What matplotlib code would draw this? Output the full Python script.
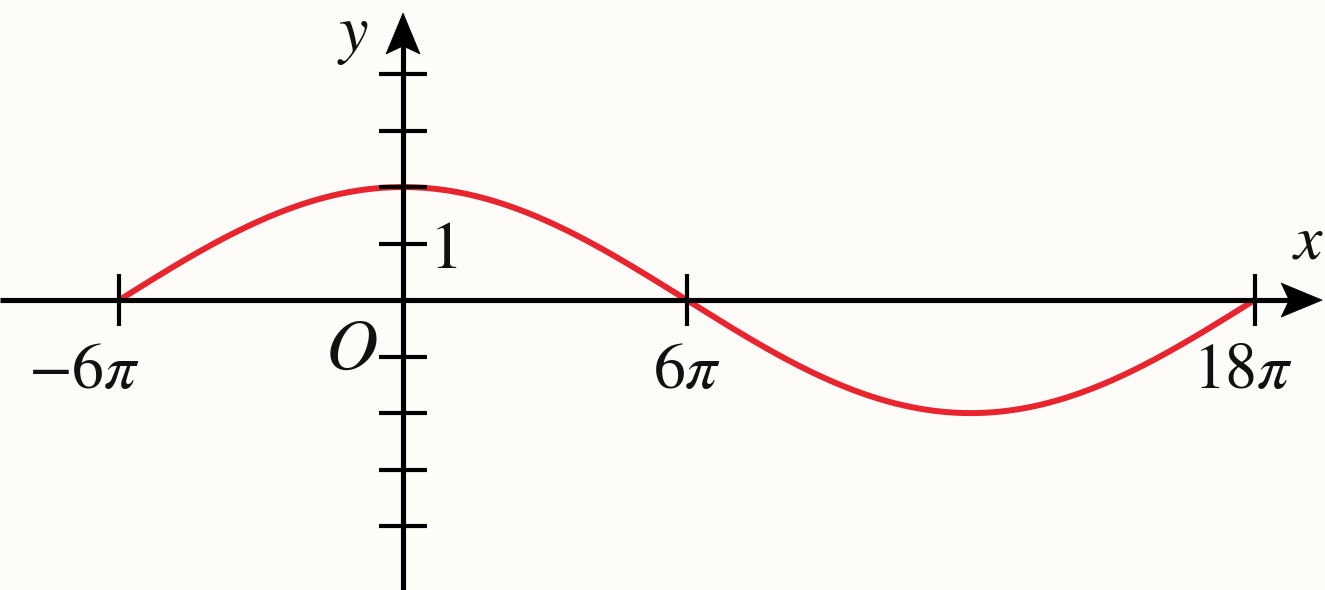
import numpy as np
import matplotlib
matplotlib.use("Agg")
import matplotlib.pyplot as plt
from matplotlib.patches import Polygon
from matplotlib import transforms

plt.rcParams["mathtext.fontset"] = "stix"

PI = np.pi

# Graph of y = A*cos(2*pi*x / T) on one full period
AMPLITUDE = 2.0
PERIOD = 24 * PI
X_START = -6 * PI
X_END = 18 * PI

# Axis ticks and their labels
X_TICKS = [-6 * PI, 6 * PI, 18 * PI]
X_TICK_LABELS = [r"$-6\pi$", r"$6\pi$", r"$18\pi$"]
Y_TICKS = [-4, -3, -2, -1, 1, 2, 3, 4]
Y_LABELED_TICK = 1

PAPER = "#fdfcf8"
CURVE_RED = "#e8242e"
INK = "#111111"

fig = plt.figure(figsize=(13.25, 5.9), dpi=100)
fig.patch.set_facecolor(PAPER)
ax = fig.add_axes([0, 0, 1, 1])
ax.set_facecolor(PAPER)

x_lo, x_hi = -8.52 * PI, 19.49 * PI
y_lo, y_hi = -5.13, 5.31
ax.set_xlim(x_lo, x_hi)
ax.set_ylim(y_lo, y_hi)

# The curve
x = np.linspace(X_START, X_END, 800)
y = AMPLITUDE * np.cos(2 * PI * x / PERIOD)
ax.plot(x, y, color=CURVE_RED, lw=4.3, solid_capstyle="butt", zorder=2)

# Axes through the origin
x_tip, y_tip = 19.43 * PI, 5.08
for side in ("top", "right"):
    ax.spines[side].set_visible(False)
ax.spines["left"].set_position(("data", 0))
ax.spines["bottom"].set_position(("data", 0))
ax.spines["left"].set_bounds(y_lo, 4.69)
ax.spines["bottom"].set_bounds(x_lo, 18.96 * PI)
for side in ("left", "bottom"):
    ax.spines[side].set_linewidth(3.7)
    ax.spines[side].set_capstyle("butt")
    ax.spines[side].set_zorder(3)

ax.set_xticks(X_TICKS)
ax.set_yticks(Y_TICKS)
ax.tick_params(axis="x", direction="inout", length=37, width=3.0,
               color="black", labelbottom=False)
ax.tick_params(axis="y", direction="inout", length=34, width=3.0,
               color="black", labelleft=False)
ax.set_axisbelow(False)


def arrow_head(xd, yd, angle):
    """Concave arrow head whose point sits at (xd, yd), sizes in inches."""
    L, W, N = 0.41, 0.17, 0.08
    pts = np.array([[0, 0], [-L, W], [-L + N, 0], [-L, -W]])
    c, s = np.cos(np.radians(angle)), np.sin(np.radians(angle))
    pts = pts @ np.array([[c, s], [-s, c]])
    trans = fig.dpi_scale_trans + transforms.ScaledTranslation(xd, yd, ax.transData)
    ax.add_patch(Polygon(pts, closed=True, facecolor="black", edgecolor="black",
                         lw=0.5, transform=trans, zorder=4, clip_on=False))


arrow_head(x_tip, 0, 0)
arrow_head(0, y_tip, 90)

# Tick labels
label_shift = {X_TICK_LABELS[0]: -0.75 * PI, X_TICK_LABELS[2]: -0.25 * PI}
for xt, lab in zip(X_TICKS, X_TICK_LABELS):
    ax.text(xt + label_shift.get(lab, 0), -1.56, lab, ha="center", va="baseline",
            fontsize=46, color=INK)

ax.text(0.55 * PI, 0.57, rf"$\mathrm{{{Y_LABELED_TICK}}}$", ha="left", va="baseline",
        fontsize=48, color=INK)
ax.text(-0.55 * PI, -1.22, r"$O$", ha="right", va="baseline", fontsize=52, color=INK)
ax.text(-1.05 * PI, 4.40, r"$y$", ha="center", va="baseline", fontsize=48, color=INK)
ax.text(18.80 * PI, 0.74, r"$x$", ha="left", va="baseline", fontsize=46, color=INK)

fig.savefig("out.png", dpi=100, facecolor=PAPER)
